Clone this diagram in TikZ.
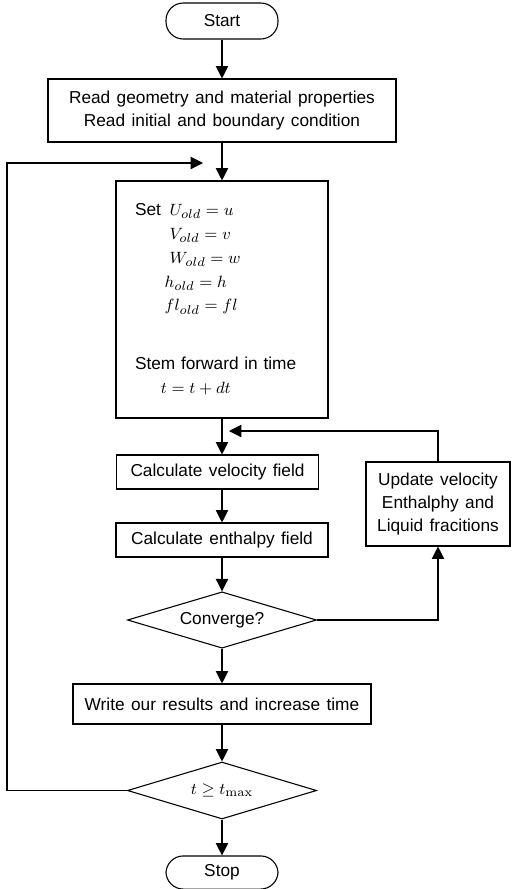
\documentclass[tikz,border=0pt]{standalone}
\usepackage[no-math]{fontspec}
\setmainfont{Liberation Sans}
\usepackage{amsmath,amssymb}
\usepackage{tikz}
\usetikzlibrary{shapes.geometric,arrows.meta,positioning}
\newcommand{\flowfont}{\fontsize{9.5}{12.65}\selectfont\spaceskip=0.37em\relax}

\begin{document}
\begin{tikzpicture}[x=0.55pt, y=-0.55pt, line width=0.6pt]

%% ── helpers ───────────────────────────────────────────────
\tikzset{
  term/.style={rectangle,draw,rounded corners=9.5pt,minimum width=61.6pt,
               minimum height=19.8pt,inner sep=0pt,font=\flowfont},
  pbox/.style={rectangle,draw,inner sep=0pt,align=center,font=\flowfont},
  dec/.style={diamond,draw,shape aspect=3.4,inner sep=0pt,
              minimum width=104pt,minimum height=31pt,font=\flowfont},
  arr/.style={-{Triangle[width=6.8pt,length=6.8pt]}},
}

\useasboundingbox (0,0) rectangle (514,889);

%% ── start and input ──────────────────────────────────────
\node[term] (start) at (222,21) {Start};
\node[pbox,minimum width=191.4pt,minimum height=34.65pt] (rd) at (222,110.5)
  {Read geometry and material properties\\Read initial and boundary condition};

%% ── time step block ──────────────────────────────────────
\node[pbox,minimum height=130.35pt,text width=95.7pt,inner xsep=10.45pt,
      align=left] (setb) at (222,299.5)
  {\renewcommand{\arraystretch}{1.04}%
   \begin{tabular}{@{}l@{\hspace{0.5em}}l@{}}
   Set & $U_{old}=u$\\
       & $V_{old}=v$\\
       & $W_{old}=w$\\
       & \hspace{-2.7pt}$h_{old}=h$\\
       & \hspace{-2.7pt}$fl_{old}=fl$\\[19pt]
   \multicolumn{2}{@{}l@{}}{Stem forward in time}\\
   \multicolumn{2}{@{}l@{}}{\hspace{1.5em}$t=t+dt$}
   \end{tabular}};

%% ── inner iteration ──────────────────────────────────────
\node[pbox,anchor=west,minimum width=111.1pt,minimum height=18.7pt] (vel) at (116,472)
  {Calculate velocity field};
\node[pbox,minimum width=116.6pt,minimum height=18.7pt] (enth) at (222,540)
  {Calculate enthalpy field};
\node[dec] (conv) at (222,620) {Converge?};
\node[pbox,minimum width=79.2pt,minimum height=46.2pt] (upd) at (438,504)
  {Update velocity\\Enthalphy and\\Liquid fracitions};

%% ── output and stop ──────────────────────────────────────
\node[pbox,minimum width=163.9pt,minimum height=22pt] (wrt) at (222,704)
  {Write our results and increase time};
\node[dec,minimum height=31.35pt] (tchk) at (222,790.5) {$t \geq t_{\max}$};
\node[term,minimum height=18.2pt] (stop) at (222,872.5) {Stop};

%% ── connections ──────────────────────────────────────────
\coordinate (loopin) at (203,163);
\coordinate (lft)    at (7,163);
\coordinate (retin)  at (229,431);

\draw[arr] (start.south) -- (rd.north);
\draw[arr] (rd.south) -- (setb.north);
\draw[arr] (setb.south) -- (setb.south |- vel.north);
\draw[arr] (enth.north |- vel.south) -- (enth.north);
\draw[arr] (enth.south) -- (conv.north);
\draw[arr] (conv.east) -| (upd.south);
\draw[arr] (upd.north) |- (retin);
\draw[arr] (conv.south) -- (wrt.north);
\draw[arr] (wrt.south) -- (tchk.north);
\draw[arr] (tchk.south) -- (stop.north);
\draw[arr] (tchk.west) -| (lft) -- (loopin);

\end{tikzpicture}
\end{document}
